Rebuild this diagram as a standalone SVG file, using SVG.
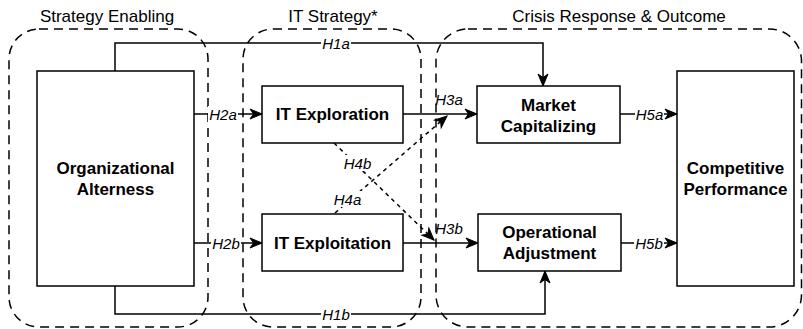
<svg xmlns="http://www.w3.org/2000/svg" width="803" height="329" viewBox="0 0 803 329">
<style>
.grp{fill:none;stroke:#000;stroke-width:1.5;stroke-dasharray:9 6}
.node{fill:#fff;stroke:#000;stroke-width:1.5}
.ttl{font-family:"Liberation Sans",Arial,sans-serif;font-size:17px;fill:#000;text-anchor:middle}
.nt{font-family:"Liberation Sans",Arial,sans-serif;font-size:17px;font-weight:bold;fill:#000;text-anchor:middle}
.lbl{font-family:"Liberation Sans",Arial,sans-serif;font-size:15px;font-style:italic;fill:#000;text-anchor:middle}
.ln{fill:none;stroke:#000;stroke-width:1.5}
.dot{fill:none;stroke:#000;stroke-width:1.5;stroke-dasharray:4 4}
.bg{fill:#fff;stroke:none}
</style>
<defs>
<marker id="arr" markerUnits="userSpaceOnUse" markerWidth="13" markerHeight="11" refX="12" refY="5" orient="auto" overflow="visible">
<path d="M0,0 L12,5 L0,10 L3.5,5 Z" fill="#000" stroke="#000" stroke-width="1"/>
</marker>
</defs>
<g id="groups">
<g id="grp-strategy-enabling">
<rect class="grp" x="9" y="29" width="199" height="298" rx="30" ry="30"/>
<text class="ttl" x="107" y="22">Strategy Enabling</text>
</g>
<g id="grp-it-strategy">
<rect class="grp" x="243" y="29" width="178" height="298" rx="30" ry="30"/>
<text class="ttl" x="333" y="22">IT Strategy*</text>
</g>
<g id="grp-crisis">
<rect class="grp" x="436" y="29" width="365.5" height="298" rx="32" ry="32"/>
<text class="ttl" x="619" y="22">Crisis Response &amp; Outcome</text>
</g>
</g>
<g id="connectors">
<polyline class="ln" points="115,71 115,43 543,43 543,86" marker-end="url(#arr)"/>
<polyline class="ln" points="115,286 115,314 545,314 545,271" marker-end="url(#arr)"/>
<line class="ln" x1="194" y1="114" x2="262" y2="114" marker-end="url(#arr)"/>
<line class="ln" x1="194" y1="243" x2="262" y2="243" marker-end="url(#arr)"/>
<line class="ln" x1="403" y1="114" x2="477" y2="114" marker-end="url(#arr)"/>
<line class="ln" x1="403" y1="243" x2="478" y2="243" marker-end="url(#arr)"/>
<line class="ln" x1="620" y1="114" x2="677" y2="114" marker-end="url(#arr)"/>
<line class="ln" x1="621" y1="243" x2="677" y2="243" marker-end="url(#arr)"/>
<line class="dot" x1="335" y1="213" x2="447" y2="116" marker-end="url(#arr)"/>
<line class="dot" x1="334" y1="143" x2="434" y2="240" marker-end="url(#arr)"/>
<g id="labels">
<rect class="bg" x="321" y="35" width="30" height="16"/><text class="lbl" x="336" y="48.5">H1a</text>
<rect class="bg" x="321" y="306" width="30" height="16"/><text class="lbl" x="336" y="319.5">H1b</text>
<rect class="bg" x="208" y="106" width="30" height="16"/><text class="lbl" x="223" y="119.5">H2a</text>
<rect class="bg" x="211" y="235" width="30" height="16"/><text class="lbl" x="226" y="248.5">H2b</text>
<text class="lbl" x="449" y="105">H3a</text>
<text class="lbl" x="449" y="234">H3b</text>
<rect class="bg" x="635" y="106" width="29" height="16"/><text class="lbl" x="649.5" y="119.5">H5a</text>
<rect class="bg" x="634" y="235" width="30" height="16"/><text class="lbl" x="649" y="248.5">H5b</text>
<rect class="bg" x="343" y="155" width="29" height="16"/><text class="lbl" x="357.5" y="168.5">H4b</text>
<rect class="bg" x="333" y="191" width="29" height="16"/><text class="lbl" x="347.5" y="204.5">H4a</text>
</g>
</g>
<g id="node-org-alterness">
<rect class="node" x="37" y="71" width="157" height="215"/>
<text class="nt" x="115.5" y="174">Organizational</text>
<text class="nt" x="115.5" y="195">Alterness</text>
</g>
<g id="node-it-exploration">
<rect class="node" x="262" y="86" width="141" height="57"/>
<text class="nt" x="332.5" y="120">IT Exploration</text>
</g>
<g id="node-it-exploitation">
<rect class="node" x="262" y="214" width="141" height="57"/>
<text class="nt" x="332.5" y="249">IT Exploitation</text>
</g>
<g id="node-market-capitalizing">
<rect class="node" x="477" y="86" width="143" height="57"/>
<text class="nt" x="548.5" y="111">Market</text>
<text class="nt" x="548.5" y="132">Capitalizing</text>
</g>
<g id="node-operational-adjustment">
<rect class="node" x="478" y="214" width="143" height="57"/>
<text class="nt" x="549.5" y="238">Operational</text>
<text class="nt" x="549.5" y="259">Adjustment</text>
</g>
<g id="node-competitive-performance">
<rect class="node" x="677" y="71" width="117" height="215"/>
<text class="nt" x="735.5" y="174">Competitive</text>
<text class="nt" x="735.5" y="195">Performance</text>
</g>
</svg>
